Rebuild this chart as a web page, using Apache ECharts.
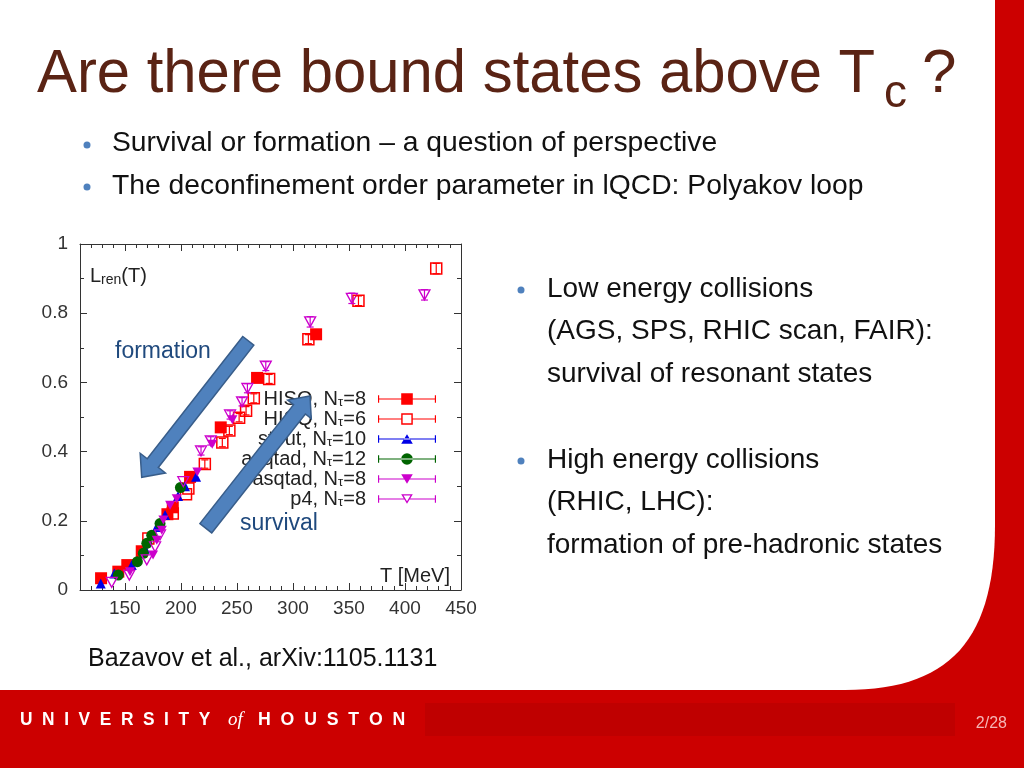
<!DOCTYPE html>
<html><head><meta charset="utf-8">
<script src="https://cdn.jsdelivr.net/npm/echarts@6/dist/echarts.min.js"></script>
<style>html,body{margin:0;padding:0;background:#fff}#c{width:1024px;height:768px}</style>
</head><body><div id="c"></div>
<script>
// ---- axis ticks ----
const xTickLabels = [150, 200, 250, 300, 350, 400, 450];
const xMinorTicks = [110, 120, 130, 140, 150, 160, 170, 180, 190, 200, 210, 220, 230, 240, 250, 260, 270, 280, 290, 300, 310, 320, 330, 340, 350, 360, 370, 380, 390, 400, 410, 420, 430, 440, 450];

// ---- series names ----
const seriesNames = ['HISQ, Nτ=8', 'HISQ, Nτ=6', 'stout, Nτ=10', 'asqtad, Nτ=12', 'asqtad, Nτ=8', 'p4, Nτ=8'];

// ---- data [T (MeV), L_ren] ----
const hisq8 = [[128.8,0.034],[144.2,0.053],[152.2,0.072],[165.1,0.112],[188,0.219],[192.8,0.239],[208.2,0.327],[235.6,0.47],[268,0.613],[320.7,0.739]];
const hisq6 = [[171,0.149],[192.8,0.221],[204.6,0.277],[206.7,0.293],[221.4,0.364],[237,0.426],[243.3,0.461],[252,0.498],[258.2,0.518],[265.1,0.554],[278.8,0.61],[313.8,0.725],[358.5,0.836],[427.9,0.929]];
const hisq6Err = [0,0,0,0,0.012,0.012,0.012,0.012,0.012,0.013,0.013,0.013,0.014,0.015];
const stout10 = [[128.5,0.019],[140.6,0.048],[156.2,0.072],[168,0.12],[178.5,0.182],[185.9,0.217],[197.5,0.272],[203.7,0.3],[213.6,0.327]];
const asqtad12 = [[144.2,0.043],[161.2,0.082],[166.5,0.106],[169.6,0.135],[174,0.158],[181.4,0.192],[199.6,0.296]];
const asqtad8 = [[154.6,0.053],[175.2,0.101],[178.5,0.144],[183,0.173],[184.4,0.202],[190.4,0.245],[196.3,0.264],[214.7,0.341],[228,0.421],[246,0.492]];
const p4 = [[138.3,0.022],[154,0.043],[169.6,0.087],[177,0.125],[181.4,0.159],[202.2,0.313],[218,0.402],[226.7,0.431],[243.9,0.506],[254.6,0.544],[259.4,0.583],[275.8,0.647],[315.4,0.775],[352.6,0.843],[417.4,0.853]];
const p4Err = [0,0,0,0,0,0,0.012,0.012,0.012,0.012,0.013,0.013,0.015,0.015,0.015];

const RED = '#ff0000', BLUE = '#0000e6', GREEN = '#006400', MAG = '#cc00cc';
const FONT = '"Liberation Sans", Arial, sans-serif';
const DOWN_TRI = 'path://M0,0 L10,0 L5,8.66 Z';

// legend icons (error bar + symbol)
const IC_RECT = 'path://M0,3H1.2V11H0Z M58.8,3H60V11H58.8Z M0,6.4H60V7.6H0Z M24,1H36V13H24Z';
const IC_ERECT = 'path://M0,3H1.2V11H0Z M58.8,3H60V11H58.8Z M0,6.4H24V7.6H0Z M36,6.4H60V7.6H36Z M24,1H36V13H24Z M25.5,2.5V11.5H34.5V2.5Z';
const IC_UTRI = 'path://M0,3H1.2V11H0Z M58.8,3H60V11H58.8Z M0,6.4H60V7.6H0Z M24,12H36L30,2Z';
const IC_CIRC = 'path://M0,3H1.2V11H0Z M58.8,3H60V11H58.8Z M0,6.4H60V7.6H0Z M24,7A6,6 0 1,0 36,7A6,6 0 1,0 24,7Z';
const IC_DTRI = 'path://M0,3H1.2V11H0Z M58.8,3H60V11H58.8Z M0,6.4H60V7.6H0Z M24,2H36L30,12Z';
const IC_EDTRI = 'path://M0,3H1.2V11H0Z M58.8,3H60V11H58.8Z M0,6.4H27.6V7.6H0Z M32.4,6.4H60V7.6H32.4Z M24,2H36L30,12Z M26.4,3.3L30,9.3L33.6,3.3Z';

function errRender(color) {
  return function (params, api) {
    const x = api.value(0), y = api.value(1), e = api.value(2);
    if (!(e > 0)) return null;
    const a = api.coord([x, y + e]), b = api.coord([x, y - e]);
    const c = 3.5, st = { stroke: color, lineWidth: 1.2 };
    return { type: 'group', children: [
      { type: 'line', shape: { x1: a[0], y1: a[1], x2: b[0], y2: b[1] }, style: st },
      { type: 'line', shape: { x1: a[0] - c, y1: a[1], x2: a[0] + c, y2: a[1] }, style: st },
      { type: 'line', shape: { x1: b[0] - c, y1: b[1], x2: b[0] + c, y2: b[1] }, style: st }
    ]};
  };
}

function arrowPts(tail, tip, w, hw, hl) {
  const dx = tip[0] - tail[0], dy = tip[1] - tail[1], L = Math.hypot(dx, dy);
  const ux = dx / L, uy = dy / L, nx = -uy, ny = ux;
  const nk = [tip[0] - ux * hl, tip[1] - uy * hl];
  const P = (p, s) => [p[0] + nx * s, p[1] + ny * s];
  return [P(tail, w / 2), P(nk, w / 2), P(nk, hw / 2), tip, P(nk, -hw / 2), P(nk, -w / 2), P(tail, -w / 2)];
}

// white slide area with rounded lower-right corner (decoration)
function slideShape() {
  const pts = [[0, 0], [995, 0], [995, 525]];
  const p0 = [995, 525], c1 = [995, 640], c2 = [950, 690], p3 = [845, 690];
  for (let i = 1; i <= 30; i++) {
    const t = i / 30, u = 1 - t;
    pts.push([u*u*u*p0[0] + 3*u*u*t*c1[0] + 3*u*t*t*c2[0] + t*t*t*p3[0],
              u*u*u*p0[1] + 3*u*u*t*c1[1] + 3*u*t*t*c2[1] + t*t*t*p3[1]]);
  }
  pts.push([0, 690]);
  return pts;
}

const axisCol = '#333';
function xAx(pos, ticks, len, line, labels) {
  return {
    type: 'value', min: 110, max: 450, position: pos,
    axisLine: { show: line, onZero: false, lineStyle: { color: axisCol, width: 1 } },
    axisTick: { show: true, inside: true, length: len, customValues: ticks, lineStyle: { color: axisCol } },
    axisLabel: labels ? { customValues: xTickLabels, fontSize: 19, color: '#333', margin: 9, fontFamily: FONT } : { show: false },
    splitLine: { show: false }
  };
}
function yAx(pos, labels) {
  return {
    type: 'value', min: 0, max: 1, interval: 0.2, position: pos,
    axisLine: { show: true, onZero: false, lineStyle: { color: axisCol, width: 1 } },
    axisTick: { show: true, inside: true, length: 7, lineStyle: { color: axisCol } },
    minorTick: { show: true, splitNumber: 2, length: 4, lineStyle: { color: axisCol } },
    axisLabel: labels ? { fontSize: 19, color: '#333', margin: 12, fontFamily: FONT } : { show: false },
    splitLine: { show: false }
  };
}

const chart = echarts.init(document.getElementById('c'), null, { renderer: 'canvas' });

const txt = (x, y, text, size, color, extra) => Object.assign({
  type: 'text', x: x, y: y, z: 100,
  style: Object.assign({ text: text, fontSize: size, fontFamily: FONT, fill: color, align: 'left', verticalAlign: 'middle' }, (extra && extra.style) || {})
}, extra && extra.el || {});

const dot = (x, y) => ({ type: 'circle', z: 100, shape: { cx: x, cy: y, r: 3.5 }, style: { fill: '#4f81bd' } });

const arrowStyle = { fill: '#4f81bd', stroke: '#385d8a', lineWidth: 1.5 };

const option = {
  animation: false,
  backgroundColor: 'transparent',
  grid: { left: 80, top: 244, width: 381, height: 346, containLabel: false },
  xAxis: [
    xAx('bottom', xTickLabels, 7, true, true),
    xAx('bottom', xMinorTicks, 4, false, false),
    xAx('top', xTickLabels, 7, true, false),
    xAx('top', xMinorTicks, 4, false, false)
  ],
  yAxis: [yAx('left', true), yAx('right', false)],
  legend: {
    orient: 'vertical', right: 583, top: 384, align: 'right',
    itemWidth: 58, itemHeight: 14, itemGap: 0, symbolRotate: 0, selectedMode: false,
    textStyle: { fontSize: 20, color: '#222', fontFamily: FONT, lineHeight: 19.4, padding: [0, 7, 0, 0],
      rich: { sub: { fontSize: 13, lineHeight: 3, verticalAlign: 'bottom', fontFamily: FONT, color: '#222' } } },
    formatter: n => n.replace('Nτ', 'N{sub|τ}'),
    data: [
      { name: seriesNames[0], icon: IC_RECT, itemStyle: { color: RED, borderWidth: 0 } },
      { name: seriesNames[1], icon: IC_ERECT, itemStyle: { color: RED, borderWidth: 0 } },
      { name: seriesNames[2], icon: IC_UTRI, itemStyle: { color: BLUE, borderWidth: 0 } },
      { name: seriesNames[3], icon: IC_CIRC, itemStyle: { color: GREEN, borderWidth: 0 } },
      { name: seriesNames[4], icon: IC_DTRI, itemStyle: { color: MAG, borderWidth: 0 } },
      { name: seriesNames[5], icon: IC_EDTRI, itemStyle: { color: MAG, borderWidth: 0 } }
    ]
  },
  series: [
    { name: seriesNames[0], type: 'scatter', data: hisq8, symbol: 'rect', symbolSize: 12, itemStyle: { color: RED, opacity: 1 }, emphasis: { disabled: true } },
    { name: seriesNames[1], type: 'scatter', data: hisq6, symbol: 'rect', symbolSize: 11, itemStyle: { color: 'rgba(0,0,0,0)', borderColor: RED, borderWidth: 1.5, opacity: 1 }, emphasis: { disabled: true } },
    { name: seriesNames[2], type: 'scatter', data: stout10, symbol: 'triangle', symbolSize: 10, itemStyle: { color: BLUE, opacity: 1 }, emphasis: { disabled: true } },
    { name: seriesNames[3], type: 'scatter', data: asqtad12, symbol: 'circle', symbolSize: 11, itemStyle: { color: GREEN, opacity: 1 }, emphasis: { disabled: true } },
    { name: seriesNames[4], type: 'scatter', data: asqtad8, symbol: DOWN_TRI, symbolSize: [10, 9], itemStyle: { color: MAG, opacity: 1 }, emphasis: { disabled: true } },
    { name: seriesNames[5], type: 'scatter', data: p4, symbol: DOWN_TRI, symbolSize: [11, 10], itemStyle: { color: 'rgba(0,0,0,0)', borderColor: MAG, borderWidth: 1.3, opacity: 1 }, emphasis: { disabled: true } },
    { name: 'errHISQ6', type: 'custom', silent: true, z: 3, encode: { x: 0, y: 1 },
      data: hisq6.map((p, i) => [p[0], p[1], hisq6Err[i]]), renderItem: errRender(RED) },
    { name: 'errP4', type: 'custom', silent: true, z: 3, encode: { x: 0, y: 1 },
      data: p4.map((p, i) => [p[0], p[1], p4Err[i]]), renderItem: errRender(MAG) }
  ],
  graphic: [
    // slide background
    { type: 'rect', z: -10, shape: { x: 0, y: 0, width: 1024, height: 768 }, style: { fill: '#cc0000' } },
    { type: 'polygon', z: -9, shape: { points: slideShape() }, style: { fill: '#ffffff' } },
    { type: 'rect', z: -8, shape: { x: 425, y: 703, width: 530, height: 33 }, style: { fill: '#bf0000' } },
    // title
    txt(37, 75, 'Are there bound states above T', 62, '#5a2314', { el: { scaleX: 0.965 } }),
    txt(884, 94, 'c', 46, '#5a2314'),
    txt(922, 75, '?', 62, '#5a2314'),
    // top bullets
    dot(87, 145), txt(112, 143, 'Survival or formation – a question of perspective', 28, '#111', { el: { scaleX: 1.01 } }),
    dot(87, 187), txt(112, 186, 'The deconfinement order parameter in lQCD: Polyakov loop', 28, '#111', { el: { scaleX: 1.01 } }),
    // right bullets
    dot(521, 290), txt(547, 289, 'Low energy collisions', 28, '#111'),
    txt(547, 331, '(AGS, SPS, RHIC scan, FAIR):', 28, '#111'),
    txt(547, 374, 'survival of resonant states', 28, '#111'),
    dot(521, 461), txt(547, 460, 'High energy collisions', 28, '#111'),
    txt(547, 502, '(RHIC, LHC):', 28, '#111'),
    txt(547, 545, 'formation of pre-hadronic states', 28, '#111'),
    // citation
    txt(88, 659, 'Bazavov et al., arXiv:1105.1131', 25, '#111'),
    // chart inner labels
    { type: 'text', x: 90, y: 276, z: 100, style: { text: '{a|L}{s|ren}{a|(T)}', fontFamily: FONT, fill: '#222', align: 'left', verticalAlign: 'middle',
      rich: { a: { fontSize: 20, lineHeight: 22, verticalAlign: 'middle', fontFamily: FONT, color: '#222' }, s: { fontSize: 14, lineHeight: 3, verticalAlign: 'bottom', fontFamily: FONT, color: '#222' } } } },
    txt(450, 576, 'T [MeV]', 20, '#222', { style: { align: 'right' } }),
    // arrows
    { type: 'polygon', z: 90, shape: { points: arrowPts([248.3, 340.8], [141.7, 477.3], 14, 32, 18) }, style: arrowStyle },
    { type: 'polygon', z: 90, shape: { points: arrowPts([205.8, 528.3], [310, 396], 15, 30, 17) }, style: arrowStyle },
    txt(115, 352, 'formation', 23, '#1f497d'),
    txt(240, 524, 'survival', 23, '#1f497d'),
    // footer
    txt(20, 720, 'U  N  I  V  E  R  S  I  T  Y', 19, '#ffffff', { style: { fontWeight: 'bold' }, el: { scaleX: 0.91 } }),
    { type: 'text', x: 228, y: 720, z: 100, style: { text: 'of', fontSize: 19, fontStyle: 'italic', fontFamily: '"Liberation Serif", serif', fill: '#ffffff', align: 'left', verticalAlign: 'middle' } },
    txt(258, 720, 'H  O  U  S  T  O  N', 19, '#ffffff', { style: { fontWeight: 'bold' }, el: { scaleX: 0.93 } }),
    txt(1007, 724, '2/28', 16, '#f5b5b5', { style: { align: 'right' } })
  ]
};
chart.setOption(option);
</script>
</body></html>
